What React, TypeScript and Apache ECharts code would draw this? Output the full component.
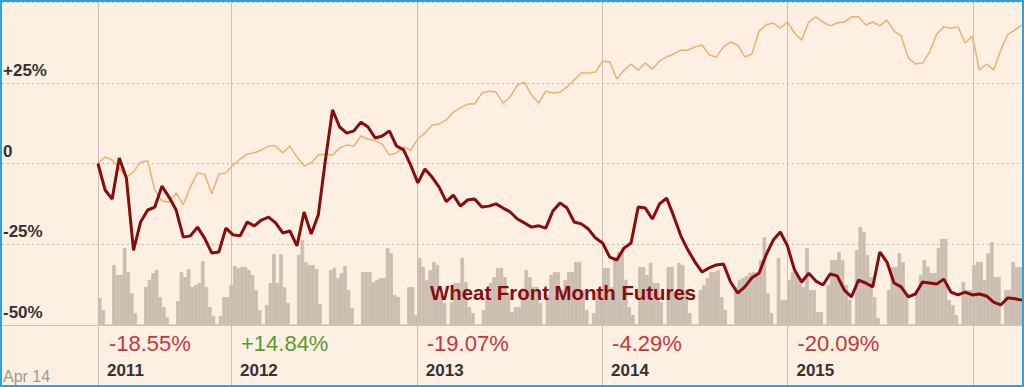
import React, { useEffect, useRef } from 'react';
import * as echarts from 'echarts';

// Weekly timeline starting 14 Apr 2011 (5 years, 260 weeks)
const START = Date.UTC(2011, 3, 14);
const WEEK_MS = 7 * 24 * 3600 * 1000;
const LEAD_WEEKS = 27; // empty band on the left holding the y labels
const SPAN_WEEKS = 260;
const LINE_STEP = 2; // line series sampled every 2 weeks

// Wheat front month futures, % change since start (every 2 weeks)
const wheatPct = [
  0, -8.2, -11.0, 1.7, -4.5, -26.9, -18.1, -14.4, -13.5, -7.0,
  -10.4, -14.4, -22.8, -22.4, -19.7, -23.1, -27.7, -27.4, -20.0, -22.1,
  -22.4, -18.1, -19.3, -17.5, -16.6, -18.4, -21.5, -20.9, -25.5, -15.0,
  -21.8, -15.9, 1.1, 16.6, 11.3, 9.4, 10.1, 12.8, 11.3, 7.9,
  8.5, 10.1, 5.4, 4.2, -0.5, -6.0, -1.7, -4.2, -7.3, -11.8,
  -9.8, -13.2, -11.3, -11.0, -13.5, -13.2, -12.5, -13.8, -15.0, -17.2,
  -18.4, -19.7, -19.3, -20.0, -14.7, -12.2, -13.8, -18.1, -18.7, -20.3,
  -23.1, -24.6, -29.0, -29.9, -26.2, -24.6, -13.5, -13.8, -17.2, -12.5,
  -10.7, -16.3, -22.4, -26.8, -30.5, -33.6, -32.3, -31.4, -31.1, -36.7,
  -40.1, -38.2, -35.4, -34.0, -28.3, -23.7, -21.2, -25.5, -33.0, -36.7,
  -34.0, -36.4, -37.6, -34.2, -34.8, -39.2, -41.3, -36.1, -37.0, -38.2,
  -27.4, -30.5, -37.0, -38.2, -41.3, -40.4, -36.7, -37.0, -37.3, -35.8,
  -39.8, -40.7, -39.8, -40.7, -40.4, -41.0, -42.9, -43.8, -41.6, -41.9,
  -42.3,
];

// Comparison index, % change since start (every 2 weeks)
const indexPct = [
  0, 2.0, 1.1, -1.4, -4.2, -2.6, 0.5, 0.8, -8.2, -11.6,
  -11.9, -9.1, -12.8, -7.3, -2.9, -3.3, -9.4, -3.3, -2.9, -0.5,
  1.4, 2.9, 3.3, 4.2, 5.4, 5.4, 3.3, 5.4, 2.0, -0.8,
  0.2, 2.6, 2.9, 2.6, 4.8, 5.7, 5.4, 8.5, 7.6, 7.0,
  6.0, 2.6, 3.3, 5.1, 4.2, 7.6, 9.4, 11.9, 12.2, 13.5,
  15.9, 17.2, 18.4, 18.4, 21.8, 22.4, 22.1, 18.7, 20.6, 24.3,
  25.2, 21.2, 18.7, 22.4, 21.8, 22.1, 23.7, 25.9, 28.0, 28.0,
  28.3, 31.7, 31.4, 26.2, 28.9, 30.8, 28.9, 31.1, 29.2, 31.7,
  33.0, 33.9, 35.1, 35.1, 36.1, 36.7, 33.6, 33.0, 36.1, 37.6,
  36.7, 33.0, 33.9, 41.0, 42.9, 43.5, 41.9, 43.8, 40.4, 38.2,
  43.8, 45.4, 43.8, 42.6, 43.5, 43.8, 45.4, 45.4, 42.9, 43.8,
  42.6, 44.4, 41.0, 39.5, 32.7, 30.8, 31.1, 34.5, 40.0, 42.3,
  41.9, 42.3, 37.3, 39.5, 28.9, 30.8, 28.9, 35.1, 40.0, 41.3,
  42.9,
];

// Weekly traded volume (arbitrary units)
const volume = [
  27, 15, 0, 0, 60, 50, 50, 77, 53, 32, 12, 0, 0, 38, 45, 52, 55, 28, 18, 8,
  0, 0, 24, 53, 48, 56, 38, 40, 42, 64, 38, 18, 9, 0, 9, 28, 28, 40, 59, 57,
  58, 58, 55, 50, 35, 15, 0, 20, 42, 71, 42, 71, 38, 22, 0, 0, 70, 85, 63, 60,
  60, 56, 21, 0, 0, 55, 57, 47, 52, 59, 35, 17, 0, 0, 53, 53, 53, 43, 45, 47,
  47, 77, 72, 30, 28, 0, 0, 38, 38, 10, 67, 58, 45, 55, 63, 60, 30, 22, 0, 23,
  42, 42, 67, 43, 18, 12, 0, 0, 15, 30, 42, 48, 57, 57, 48, 32, 13, 18, 18, 37,
  55, 48, 38, 38, 22, 0, 30, 50, 53, 53, 35, 45, 53, 53, 63, 63, 35, 15, 0, 12,
  35, 35, 57, 57, 38, 68, 73, 73, 45, 18, 10, 0, 58, 58, 50, 62, 42, 42, 23, 0,
  58, 58, 32, 62, 60, 35, 12, 0, 0, 35, 40, 47, 53, 53, 55, 28, 15, 0, 0, 38,
  45, 47, 49, 52, 53, 53, 65, 88, 32, 12, 0, 67, 25, 25, 45, 53, 53, 47, 38, 77,
  35, 35, 13, 13, 0, 40, 65, 65, 73, 65, 40, 25, 0, 75, 98, 93, 70, 48, 28, 7,
  0, 0, 35, 58, 58, 72, 63, 32, 0, 0, 35, 50, 65, 58, 52, 52, 77, 86, 86, 25,
  20, 10, 0, 43, 35, 35, 60, 63, 63, 45, 72, 83, 48, 48, 0, 35, 35, 63, 58, 58,
];

const yearLabels = [2011, 2012, 2013, 2014, 2015];
const yearChanges = ['-18.55%', '+14.84%', '-19.07%', '-4.29%', '-20.09%'];
const yearLines = [2012, 2013, 2014, 2015, 2016];
const startLabel = 'Apr 14';
const seriesLabel = 'Wheat Front Month Futures';

const FONT = "'Liberation Sans', Arial, Helvetica, sans-serif";
const BAR_COLOR = '#cabdb0';

function weeksFromStart(year: number): number {
  return (Date.UTC(year, 0, 1) - START) / WEEK_MS;
}

export default function App() {
  const ref = useRef<HTMLDivElement>(null);

  useEffect(() => {
    document.body.style.margin = '0';
    if (!ref.current) return;
    const chart = echarts.init(ref.current, null, { renderer: 'svg' });

    chart.setOption({
      animation: false,
      backgroundColor: '#fdf0e2',
      grid: { left: 2, right: 2, top: 2, bottom: 62 },
      xAxis: {
        type: 'value',
        min: -LEAD_WEEKS,
        max: SPAN_WEEKS,
        axisLine: { show: true, onZero: false, lineStyle: { color: '#cfc4b8', width: 1 } },
        axisTick: { show: false },
        axisLabel: { show: false },
        splitLine: { show: false },
      },
      yAxis: [
        {
          type: 'value',
          min: -50,
          max: 50,
          interval: 25,
          axisLine: { show: false },
          axisTick: { show: false },
          splitLine: { show: true, lineStyle: { type: [2, 3], color: '#c4b8ac', width: 1 } },
          axisLabel: {
            inside: true,
            margin: 1,
            color: '#333333',
            fontSize: 17,
            fontWeight: 'bold',
            fontFamily: FONT,
            verticalAlign: 'bottom',
            lineHeight: 25,
            formatter: (v: number) =>
              v === 50 ? '' : v === 0 ? '0' : (v > 0 ? '+' : '') + v + '%',
          },
        },
        { type: 'value', min: 0, max: 323, show: false },
      ],
      series: [
        {
          type: 'bar',
          yAxisIndex: 1,
          data: volume.map((v, k) => [k + 0.5, v]),
          barWidth: 3.6,
          itemStyle: { color: BAR_COLOR, borderColor: BAR_COLOR, borderWidth: 0.8 },
          silent: true,
          z: 2,
        },
        {
          type: 'line',
          data: indexPct.map((v, i) => [i * LINE_STEP, v]),
          showSymbol: false,
          lineStyle: { color: '#f0ae72', width: 1.5 },
          z: 3,
        },
        {
          type: 'line',
          data: wheatPct.map((v, i) => [i * LINE_STEP, v]),
          showSymbol: false,
          lineStyle: { color: '#880c0c', width: 3 },
          z: 4,
        },
      ],
    });

    const px = (w: number) => chart.convertToPixel({ xAxisIndex: 0 }, w) as number;
    const graphics: any[] = [];

    const linePositions = [0, ...yearLines.map(weeksFromStart)];
    linePositions.forEach((w) => {
      const x = Math.round(px(w)) + 0.5;
      graphics.push({
        type: 'line',
        z: 1,
        silent: true,
        shape: { x1: x, y1: 2, x2: x, y2: 385 },
        style: { stroke: '#cdc1b5', lineWidth: 1 },
      });
    });

    yearLabels.forEach((yr, i) => {
      const anchor = i === 0 ? 0 : weeksFromStart(yr);
      const x = px(anchor) + 10;
      const chg = yearChanges[i];
      graphics.push({
        type: 'text',
        z: 10,
        silent: true,
        style: {
          text: chg,
          x: i === 0 ? x + 1 : x,
          y: 343,
          fill: chg.startsWith('+') ? '#5b9a32' : '#c8373a',
          fontSize: 22,
          fontFamily: FONT,
          textAlign: 'left',
          align: 'left',
          textVerticalAlign: 'middle',
          verticalAlign: 'middle',
        },
      });
      graphics.push({
        type: 'text',
        z: 10,
        silent: true,
        style: {
          text: String(yr),
          x: x - 1,
          y: 370,
          fill: '#333333',
          fontSize: 17,
          fontWeight: 'bold',
          fontFamily: FONT,
          textAlign: 'left',
          align: 'left',
          textVerticalAlign: 'middle',
          verticalAlign: 'middle',
        },
      });
    });

    graphics.push({
      type: 'text',
      z: 10,
      silent: true,
      style: {
        text: startLabel,
        x: 3,
        y: 376,
        fill: '#9a9a9a',
        fontSize: 16,
        fontFamily: FONT,
        textAlign: 'left',
        align: 'left',
        textVerticalAlign: 'middle',
        verticalAlign: 'middle',
      },
    });

    graphics.push({
      type: 'text',
      z: 10,
      silent: true,
      style: {
        text: seriesLabel,
        x: 430,
        y: 293,
        fill: '#880c0c',
        fontSize: 20.4,
        fontWeight: 'bold',
        fontFamily: FONT,
        textAlign: 'left',
        align: 'left',
        textVerticalAlign: 'middle',
        verticalAlign: 'middle',
      },
    });

    graphics.push({
      type: 'rect',
      z: 100,
      silent: true,
      shape: { x: 1, y: 1, width: 1022, height: 385 },
      style: { fill: 'none', stroke: '#27a5dd', lineWidth: 2 },
    });

    chart.setOption({ graphic: graphics });

    return () => {
      chart.dispose();
    };
  }, []);

  return (
    <div
      ref={ref}
      style={{ position: 'absolute', left: 0, top: 0, width: 1024, height: 387 }}
    />
  );
}
